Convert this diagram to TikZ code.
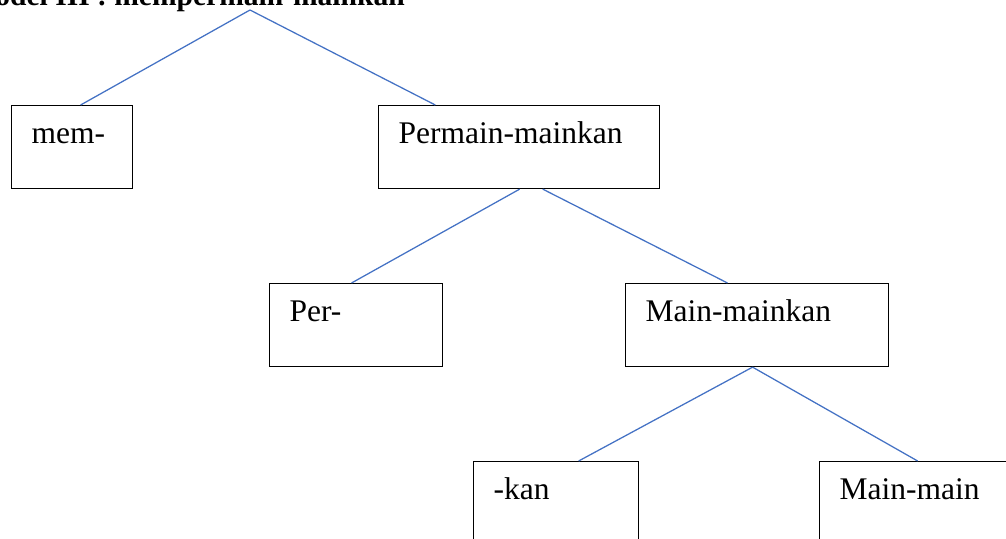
\documentclass[tikz,border=0pt]{standalone}
\usepackage{fontspec}
\setmainfont{Liberation Serif}
\usepackage{tikz}
\usetikzlibrary{calc}

\begin{document}
\begin{tikzpicture}[x=0.025cm,y=0.025cm,
  kotak/.style={draw,rectangle,line width=0.8pt,anchor=north west,align=left,
    inner xsep=0.5cm,inner ysep=0.25cm,text height=0.7cm,text depth=0.875cm,
    font=\fontsize{22.4}{26}\selectfont},
  garis/.style={line width=0.9pt,color={rgb,255:red,68;green,114;blue,196}}]
\useasboundingbox (0,0) rectangle (1006,539);
\clip (0,0) rectangle (1006,539);
%\draw [thick,red,dashed] (0,0) rectangle (1006,539);
\node [anchor=base east,inner sep=0pt,font=\bfseries\fontsize{21}{24}\selectfont] (judul) at(405,533){Model III : mempermain-mainkan};
\coordinate (puncak) at(250,529);

\node [kotak,text width=81*0.025cm] (mem) at(11,434){mem-};
\node [kotak,text width=241*0.025cm] (pm) at(378,434){Permain-mainkan};

\node [kotak,text width=133*0.025cm] (per) at(269,256){Per-};
\node [kotak,text width=223*0.025cm] (mm) at(625,256){Main-mainkan};

\node [kotak,text width=125*0.025cm] (kan) at(473,78){-kan};
\node [kotak,text width=150*0.025cm] (mmn) at(819,78){Main-main};

\draw[garis](puncak) -- ($(mem.north west)!0.57!(mem.north east)$);
\draw[garis](puncak) -- ($(pm.north west)!0.203!(pm.north east)$);
\draw[garis]($(pm.south west)!0.502!(pm.south east)$) -- ($(per.north west)!0.474!(per.north east)$);
\draw[garis]($(pm.south west)!0.584!(pm.south east)$) -- ($(mm.north west)!0.388!(mm.north east)$);
\draw[garis]($(mm.south west)!0.483!(mm.south east)$) -- ($(kan.north west)!0.636!(kan.north east)$);
\draw[garis]($(mm.south west)!0.483!(mm.south east)$) -- ($(mmn.north west)!0.516!(mmn.north east)$);
%\draw[garis](mm) -- (mmn);

\end{tikzpicture}
\end{document}
